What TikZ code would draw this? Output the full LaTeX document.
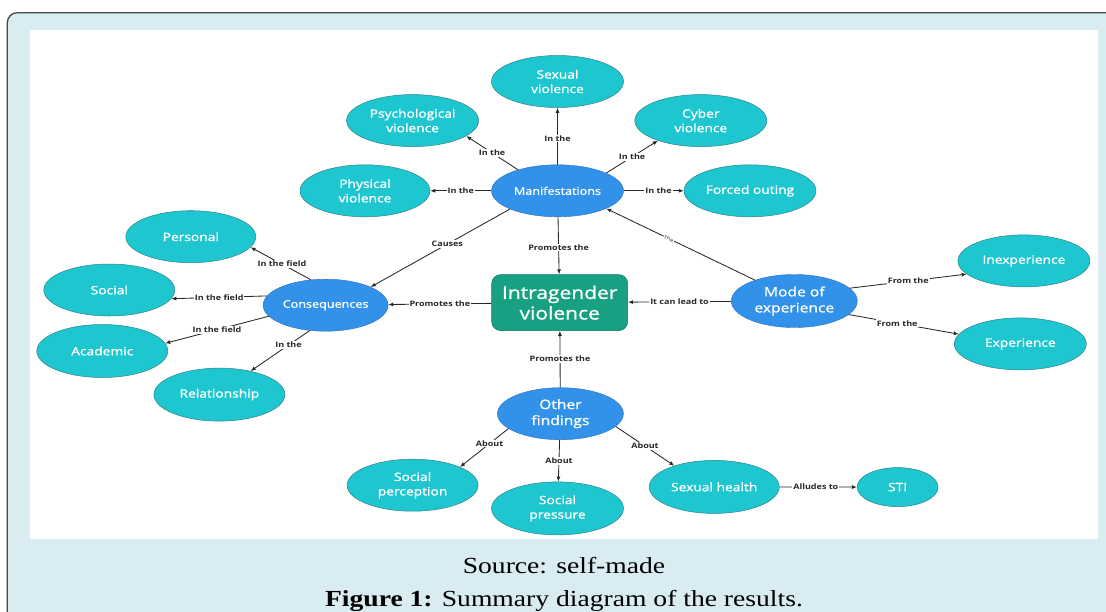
\documentclass[tikz,border=0pt]{standalone}
\usepackage{fontspec}
\newfontfamily\nf[FakeStretch=1.2]{Open Sans}
\newfontfamily\nfb[FakeStretch=1.2,FakeBold=1.2]{Open Sans}
\newfontfamily\capf[FakeStretch=1.2]{Liberation Serif}
\usetikzlibrary{shapes.geometric,arrows.meta}
\definecolor{cyanN}{RGB}{30,198,208}
\definecolor{cyanE}{RGB}{45,130,140}
\definecolor{blueN}{RGB}{50,146,234}
\definecolor{blueE}{RGB}{40,110,190}
\definecolor{greenN}{RGB}{23,160,129}
\definecolor{greenE}{RGB}{15,120,95}
\definecolor{frameBG}{RGB}{216,236,241}
\definecolor{frameE}{RGB}{70,70,70}
\definecolor{lineC}{RGB}{40,40,40}
\begin{document}
\begin{tikzpicture}[x=1pt,y=-1pt,
  cnode/.style={ellipse, fill=cyanN, draw=cyanE, line width=0.5pt, text=white, inner sep=0pt,
    minimum width=132pt, minimum height=52pt, align=center, font=\nfb\fontsize{11.5}{14.5}\selectfont},
  bnode/.style={ellipse, fill=blueN, draw=blueE, line width=0.4pt, text=white, inner sep=0pt,
    minimum width=126pt, minimum height=52pt, align=center},
  mainbox/.style={rectangle, rounded corners=9pt, fill=greenN, draw=greenE, line width=0.5pt, text=white,
    inner sep=0pt, minimum width=136pt, minimum height=56pt, align=center, font=\nfb\fontsize{17.5}{20.5}\selectfont},
  conn/.style={draw=lineC, line width=0.85pt, -{Latex[length=5pt,width=4pt]}},
  lbl/.style={fill=white, inner sep=1pt, text=lineC, font=\nf\bfseries\fontsize{7.5}{8.5}\selectfont},
  tinylbl/.style={fill=white, inner sep=0.5pt, text=lineC, font=\nf\fontsize{5}{6}\selectfont},
  capt/.style={anchor=base, text=black, inner sep=0pt, font=\capf\fontsize{23}{27}\selectfont}
]
\useasboundingbox (0,0) rectangle (1106,611);
\fill[white] (0,0) rectangle (1106,611);
\draw[fill=frameBG, draw=frameE, line width=1.3pt, rounded corners=10pt] (7.3,12.7) rectangle (1140,660);
\fill[white] (30,30) rectangle (1098,538.5);

% nodes
\node[cnode] (sexual) at (557.5,81.5) {Sexual\\violence};
\node[cnode] (psych) at (412.6,120.6) {Psychological\\violence};
\node[cnode] (cyber) at (700.8,120.6) {Cyber\\violence};
\node[cnode, minimum width=130pt] (phys) at (365,190.8) {Physical\\violence};
\node[bnode, minimum width=132pt, font=\nfb\fontsize{10.5}{13}\selectfont] (manif) at (557.5,190.8) {Manifestations};
\node[cnode] (forced) at (750,190.8) {Forced outing};
\node[cnode, minimum width=130pt] (personal) at (190.8,236.7) {Personal};
\node[cnode, minimum width=131pt] (social) at (109.3,290) {Social};
\node[bnode, minimum width=125pt, font=\nfb\fontsize{10.5}{13}\selectfont] (cons) at (325.6,305.2) {Consequences};
\node[cnode, minimum width=131pt, minimum height=53pt] (acad) at (102.3,351) {Academic};
\node[cnode, minimum width=131pt, minimum height=53pt] (relat) at (219.4,394.6) {Relationship};
\node[mainbox] (intra) at (559.7,302.6) {Intragender\\violence};
\node[bnode, minimum height=53pt, font=\nfb\fontsize{13}{16}\selectfont] (mode) at (794.3,301) {Mode of\\experience};
\node[cnode] (inexp) at (1023.9,260.9) {Inexperience};
\node[cnode] (exper) at (1020.3,343.9) {Experience};
\node[bnode, font=\nfb\fontsize{13}{16}\selectfont] (other) at (560.4,413.7) {Other\\findings};
\node[cnode, minimum width=131pt] (socperc) at (412.6,485.2) {Social\\perception};
\node[cnode, minimum height=53pt] (socpress) at (557.5,508.4) {Social\\pressure};
\node[cnode, minimum width=130pt, minimum height=53pt] (sexh) at (714.2,486.9) {Sexual health};
\node[cnode, minimum width=81pt, minimum height=39pt] (sti) at (897.6,487.1) {STI};

% connectors
\draw[conn] (manif) -- node[lbl, pos=0.46] {In the} (sexual);
\draw[conn] (manif.152.3) -- node[lbl] {In the} (psych.-16.6);
\draw[conn] (manif.20.3) -- node[lbl] {In the} (cyber.-155.5);
\draw[conn] (manif) -- node[lbl] {In the} (phys);
\draw[conn] (manif) -- node[lbl, pos=0.58] {In the} (forced);
\draw[conn] (manif.201.4) -- node[lbl, pos=0.45] {Causes} (cons.22.2);
\draw[conn] (manif) -- node[lbl, pos=0.53] {Promotes the} (intra);
\draw[conn] (mode.152.7) -- node[tinylbl, sloped, pos=0.58] {The} (manif.-20.6);
\draw[conn] (mode) -- node[lbl] {It can lead to} (intra);
\draw[conn] (intra) -- node[lbl] {Promotes the} (cons);
\draw[conn] (other) -- node[lbl] {Promotes the} (intra);
\draw[conn] (cons.120.9) -- node[lbl, pos=0.48] {In the field} (personal.-10.4);
\draw[conn] (cons.171.1) -- node[lbl] {In the field} (social.-8.3);
\draw[conn] (cons.191.8) -- node[lbl] {In the field} (acad.7.9);
\draw[conn] (cons.-122.5) -- node[lbl, pos=0.36] {In the} (relat.37);
\draw[conn] (mode.13.9) -- node[lbl] {From the} (inexp.-167.2);
\draw[conn] (mode.-14) -- node[lbl, pos=0.44] {From the} (exper.171.3);
\draw[conn] (other.196) -- node[lbl, pos=0.39] {About} (socperc.21.5);
\draw[conn] (other) -- node[lbl] {About} (socpress);
\draw[conn] (other.-13.7) -- node[lbl] {About} (sexh.152.4);
\draw[conn] (sexh) -- node[lbl, pos=0.47] {Alludes to} (sti);

% caption
\node[capt] (src) at (564,573) {Source: self-made};
\node[capt] (fig) at (564,606) {\textbf{Figure 1:} Summary diagram of the results.};
\end{tikzpicture}
\end{document}
